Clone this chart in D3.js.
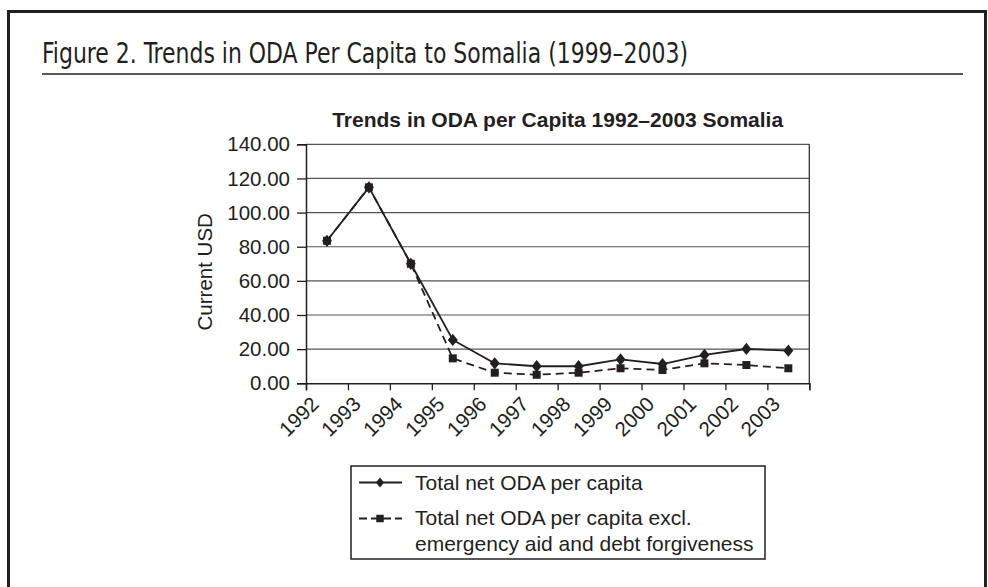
<!DOCTYPE html>
<html>
<head>
<meta charset="utf-8">
<script src="https://cdn.jsdelivr.net/npm/d3@7"></script>
<style>
  body { margin: 0; background: #fff; }
  svg { display: block; }
</style>
</head>
<body>
<svg width="988" height="587"></svg>
<script>
// data
var years = ["1992","1993","1994","1995","1996","1997","1998","1999","2000","2001","2002","2003"];
var totalOda = [83.5, 114.8, 70.0, 25.4, 11.7, 10.0, 10.0, 14.0, 11.3, 16.6, 20.1, 19.1];
var odaExcl = [83.5, 114.8, 70.0, 14.6, 6.2, 5.0, 6.2, 8.8, 7.8, 11.7, 10.7, 8.8];
var yTicks = [0, 20, 40, 60, 80, 100, 120, 140];

var svg = d3.select("svg");
var ink = "#231f20";

// outer frame
svg.append("rect")
  .attr("x", 8.5).attr("y", 11.5)
  .attr("width", 977).attr("height", 600)
  .attr("fill", "none").attr("stroke", ink).attr("stroke-width", 3);

svg.append("text")
  .attr("x", 42).attr("y", 63)
  .attr("font-family", "'DejaVu Sans Condensed', 'Liberation Sans Narrow', 'Liberation Sans', sans-serif")
  .attr("font-size", 27.5)
  .attr("fill", ink)
  .attr("textLength", 646).attr("lengthAdjust", "spacingAndGlyphs")
  .text("Figure 2.  Trends in ODA Per Capita to Somalia (1999\u20132003)");

svg.append("line")
  .attr("x1", 42).attr("x2", 963).attr("y1", 74).attr("y2", 74)
  .attr("stroke", ink).attr("stroke-width", 1.5);

var pLeft = 306, pRight = 809.3, pTop = 144.3, pBottom = 383.3;

var x = d3.scaleBand().domain(years).range([pLeft, pRight]);
var xEdge = d3.scaleLinear().domain([0, years.length]).range([pLeft, pRight]);
var y = d3.scaleLinear().domain([0, 140]).range([pBottom, pTop]);

var font = "'Liberation Sans', Arial, sans-serif";

// chart title
svg.append("text")
  .attr("x", (pLeft + pRight) / 2).attr("y", 127)
  .attr("text-anchor", "middle")
  .attr("font-family", font).attr("font-weight", "bold").attr("font-size", 21)
  .attr("fill", ink)
  .text("Trends in ODA per Capita 1992\u20132003 Somalia");

// gridlines
svg.append("g")
  .selectAll("line")
  .data(yTicks.filter(function(d) { return d > 0; }))
  .enter().append("line")
    .attr("x1", pLeft).attr("x2", pRight)
    .attr("y1", function(d) { return y(d); })
    .attr("y2", function(d) { return y(d); })
    .attr("stroke", "#555").attr("stroke-width", 1.2);

// right border of plot
svg.append("line")
  .attr("x1", pRight).attr("x2", pRight).attr("y1", pTop).attr("y2", pBottom)
  .attr("stroke", "#333").attr("stroke-width", 1.3);

// y axis
var yAxis = svg.append("g")
  .attr("transform", "translate(" + pLeft + ",0)")
  .call(d3.axisLeft(y).tickValues(yTicks).tickFormat(d3.format(".2f")).tickSize(9).tickPadding(7));
yAxis.select(".domain").attr("stroke", ink).attr("stroke-width", 1.5);
yAxis.selectAll(".tick line").attr("stroke", ink).attr("stroke-width", 1.3);
yAxis.selectAll("text").attr("font-family", font).attr("font-size", 20.5).attr("fill", ink);

// x axis ticks between categories
var xAxis = svg.append("g")
  .attr("transform", "translate(0," + pBottom + ")")
  .call(d3.axisBottom(xEdge).tickValues(d3.range(years.length + 1)).tickFormat("").tickSize(7));
xAxis.select(".domain").attr("stroke", ink).attr("stroke-width", 1.5);
xAxis.selectAll(".tick line").attr("stroke", ink).attr("stroke-width", 1.3);

// x labels rotated
svg.append("g")
  .selectAll("text")
  .data(years)
  .enter().append("text")
    .attr("transform", function(d) {
      return "translate(" + (x(d) + x.bandwidth() / 2 - 12) + "," + (pBottom + 17) + ") rotate(-45)";
    })
    .attr("text-anchor", "end")
    .attr("dy", "0.35em")
    .attr("font-family", font).attr("font-size", 20.5).attr("fill", ink)
    .text(function(d) { return d; });

svg.append("text")
  .attr("transform", "translate(212," + ((pTop + pBottom) / 2 + 8) + ") rotate(-90)")
  .attr("text-anchor", "middle")
  .attr("font-family", font).attr("font-size", 20.5).attr("fill", ink)
  .text("Current USD");

var cx = function(d, i) { return x(years[i]) + x.bandwidth() / 2; };

var line = d3.line()
  .x(function(d, i) { return cx(d, i); })
  .y(function(d) { return y(d); });

svg.append("path")
  .datum(odaExcl)
  .attr("d", line)
  .attr("fill", "none").attr("stroke", ink).attr("stroke-width", 1.8)
  .attr("stroke-dasharray", "8,5");

svg.append("path")
  .datum(totalOda)
  .attr("d", line)
  .attr("fill", "none").attr("stroke", ink).attr("stroke-width", 1.8);

svg.append("g")
  .selectAll("path")
  .data(odaExcl)
  .enter().append("path")
    .attr("d", d3.symbol().type(d3.symbolSquare).size(64))
    .attr("transform", function(d, i) { return "translate(" + cx(d, i) + "," + y(d) + ")"; })
    .attr("fill", ink);

svg.append("g")
  .selectAll("path")
  .data(totalOda)
  .enter().append("path")
    .attr("d", d3.symbol().type(d3.symbolDiamond).size(60))
    .attr("transform", function(d, i) { return "translate(" + cx(d, i) + "," + y(d) + ") scale(1.2,0.85)"; })
    .attr("fill", ink);

// legend
var legend = svg.append("g");
legend.append("rect")
  .attr("x", 351).attr("y", 466)
  .attr("width", 414).attr("height", 93)
  .attr("fill", "none").attr("stroke", ink).attr("stroke-width", 1.5);

legend.append("line")
  .attr("x1", 359).attr("x2", 402).attr("y1", 482.5).attr("y2", 482.5)
  .attr("stroke", ink).attr("stroke-width", 1.8);
legend.append("path")
  .attr("d", d3.symbol().type(d3.symbolDiamond).size(40))
  .attr("transform", "translate(380,482.5) scale(1.2,0.85)")
  .attr("fill", ink);
legend.append("line")
  .attr("x1", 359).attr("x2", 402).attr("y1", 518.5).attr("y2", 518.5)
  .attr("stroke", ink).attr("stroke-width", 1.8).attr("stroke-dasharray", "8,4");
legend.append("path")
  .attr("d", d3.symbol().type(d3.symbolSquare).size(56))
  .attr("transform", "translate(380,518.5)")
  .attr("fill", ink);

var legendText = [
  { t: "Total net ODA per capita", y: 489.5 },
  { t: "Total net ODA per capita excl.", y: 525 },
  { t: "emergency aid and debt forgiveness", y: 550.5 }
];
legend.selectAll("text.lab")
  .data(legendText)
  .enter().append("text")
    .attr("class", "lab")
    .attr("x", 415).attr("y", function(d) { return d.y; })
    .attr("font-family", font).attr("font-size", 21).attr("fill", ink)
    .text(function(d) { return d.t; });
</script>
</body>
</html>
